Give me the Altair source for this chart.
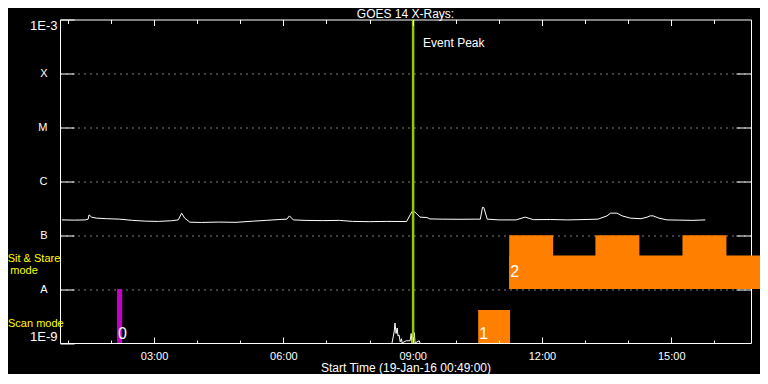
import altair as alt
import pandas as pd

# ---------------- data ----------------
# GOES 14 long channel (hours after 00:00, flux W/m^2)
goes_hours = [0.86, 1.16, 1.40, 1.47, 1.49, 1.55, 1.66, 1.90, 2.20, 2.50,
              2.80, 3.10, 3.40, 3.56, 3.64, 3.71, 3.83, 4.10, 4.50, 4.90,
              5.30, 5.60, 5.90, 6.08, 6.14, 6.23, 6.50, 6.90, 7.30, 7.60,
              8.00, 8.40, 8.86, 8.94, 9.00, 9.08, 9.17, 9.33, 9.40, 9.70,
              10.10, 10.45, 10.57, 10.62, 10.65, 10.73, 11.00, 11.40, 11.61, 11.80,
              12.20, 12.60, 13.00, 13.30, 13.51, 13.59, 13.74, 13.86, 14.05, 14.30,
              14.44, 14.51, 14.58, 14.71, 14.90, 15.20, 15.50, 15.79]
goes_flux = [1.92e-7, 1.90e-7, 1.92e-7, 1.98e-7, 2.38e-7, 2.16e-7, 2.07e-7, 2.02e-7, 1.98e-7, 1.88e-7,
             1.82e-7, 1.80e-7, 1.85e-7, 1.92e-7, 2.56e-7, 2.07e-7, 1.74e-7, 1.72e-7, 1.75e-7, 1.73e-7,
             1.82e-7, 1.88e-7, 1.95e-7, 1.98e-7, 2.28e-7, 1.92e-7, 1.88e-7, 1.86e-7, 1.88e-7, 1.80e-7,
             1.78e-7, 1.80e-7, 1.79e-7, 2.38e-7, 2.86e-7, 2.56e-7, 2.16e-7, 2.12e-7, 2.00e-7, 1.98e-7,
             1.97e-7, 1.98e-7, 1.98e-7, 3.30e-7, 3.25e-7, 1.98e-7, 1.92e-7, 1.92e-7, 2.16e-7, 1.94e-7,
             1.95e-7, 1.92e-7, 1.95e-7, 1.98e-7, 2.28e-7, 2.56e-7, 2.56e-7, 2.28e-7, 2.07e-7, 2.02e-7,
             2.16e-7, 2.28e-7, 2.28e-7, 2.07e-7, 1.92e-7, 1.90e-7, 1.88e-7, 1.92e-7]

# GOES short channel (only visible near the bottom around 08:30-09:10)
low_hours = [8.52, 8.57, 8.59, 8.615, 8.64, 8.66, 8.685, 8.71, 8.74, 8.755,
             8.85, 8.94, 8.965, 8.985, 9.04, 9.055, 9.15, 9.17]
low_flux = [1.0e-9, 1.6e-9, 2.35e-9, 1.5e-9, 1.9e-9, 1.35e-9, 1.4e-9, 1.05e-9, 1.2e-9, 1.0e-9,
            1.1e-9, 1.1e-9, 1.5e-9, 1.0e-9, 1.55e-9, 1.0e-9, 1.1e-9, 1.0e-9]

# Sit & Stare observation: a long band plus three taller blocks
ss_start = [11.24, 11.24, 13.24, 15.26]
ss_end = [17.30, 12.26, 14.26, 16.28]
ss_top = [4.2e-8, 1e-7, 1e-7, 1e-7]
ss_bottom = [1e-8, 1e-8, 1e-8, 1e-8]

# Scan mode observation blocks
scan_start = [2.14, 10.52]
scan_end = [2.26, 11.26]
scan_top = [1e-8, 4.1e-9]
scan_bottom = [1e-9, 1e-9]
scan_color = ["#c400c4", "#ff8000"]

# observation numbers
obs_labels = ["0", "1", "2"]
obs_hours = [2.14, 10.52, 11.24]
obs_flux = [1.5e-9, 1.5e-9, 2.1e-8]

# event peak
peak_hour = [9.01]
peak_lo = [1e-9]
peak_hi = [1e-3]
peak_label = ["Event Peak"]
peak_label_flux = [3.66e-4]

# mode labels
mode_labels = ["Sit & Stare", "mode", "Scan mode"]
mode_flux = [3.65e-8, 2.19e-8, 2.25e-9]

# axes
x_domain = [0.8167, 16.85]
hour_major = [3, 6, 9, 12, 15]
hour_minor = list(range(1, 17))
decades = [1e-9, 1e-8, 1e-7, 1e-6, 1e-5, 1e-4, 1e-3]
decade_labels = ["1E-9", "A", "B", "C", "M", "X", "1E-3"]

# ---------------- styling ----------------
FONT = "Liberation Sans"
WHITE = "#ffffff"
ORANGE = "#ff8000"
GREEN = "#94c800"
YELLOW = "#ffff00"

x_scale = alt.Scale(domain=x_domain, nice=False, zero=False)
y_scale = alt.Scale(type="log", domain=[decades[0], decades[-1]], nice=False)

label_expr_y = "[" + ",".join("'%s'" % s for s in decade_labels) + "][round(log(datum.value)/LN10) + 9]"
label_expr_x = "(datum.value < 10 ? '0' : '') + datum.value + ':00'"
edge_test = "datum.value > 5e-4 || datum.value < 2e-9"

ax_x_bottom_major = alt.Axis(
    orient="bottom", values=hour_major, offset=-6, tickSize=6, tickColor=WHITE, tickWidth=1,
    domain=False, grid=False, labelExpr=label_expr_x, labelColor=WHITE, labelFont=FONT,
    labelFontSize=11, labelPadding=7, labelFlush=False, labelOverlap=False,
    title="Start Time (19-Jan-16 00:49:00)", titleColor=WHITE, titleFont=FONT,
    titleFontSize=12, titleFontWeight="normal", titlePadding=1, zindex=1)
ax_x_bottom_minor = alt.Axis(
    orient="bottom", values=hour_minor, offset=-3, tickSize=3, tickColor=WHITE, tickWidth=1,
    domain=False, grid=False, labels=False, title=None, zindex=1)
ax_x_top_major = alt.Axis(
    orient="top", values=hour_major, offset=-6, tickSize=6, tickColor=WHITE, tickWidth=1,
    domain=False, grid=False, labels=False, title=None, zindex=1)
ax_x_top_minor = alt.Axis(
    orient="top", values=hour_minor, offset=-4, tickSize=4, tickColor=WHITE, tickWidth=1,
    domain=False, grid=False, labels=False, title=None, zindex=1)

ax_y_left = alt.Axis(
    orient="left", values=decades, offset=-14, tickSize=14, tickColor=WHITE, tickWidth=1,
    domain=False, grid=False, labelExpr=label_expr_y, labelColor=WHITE, labelFont=FONT,
    labelFontSize={"condition": {"test": edge_test, "value": 13}, "value": 11},
    labelPadding={"condition": {"test": edge_test, "value": 3}, "value": 13},
    labelFlush=True, labelOverlap=False, title=None, zindex=1)
ax_y_right = alt.Axis(
    orient="right", values=decades[1:-1], offset=-15, tickSize=15, tickColor=WHITE, tickWidth=1,
    domain=False, grid=False, labels=False, title=None, zindex=1)
ax_y_grid = alt.Axis(
    orient="left", values=decades[1:-1], grid=True, gridColor=WHITE, gridDash=[1, 5],
    gridWidth=1, gridOpacity=1, ticks=False, labels=False, domain=False, title=None, zindex=0)

# ---------------- tables ----------------
goes_df = pd.DataFrame({"hour": goes_hours, "flux": goes_flux})
low_df = pd.DataFrame({"hour": low_hours, "flux": low_flux})
ss_df = pd.DataFrame({"start": ss_start, "end": ss_end, "top": ss_top, "bottom": ss_bottom})
scan_df = pd.DataFrame({"start": scan_start, "end": scan_end, "top": scan_top,
                        "bottom": scan_bottom, "color": scan_color})
obs_df = pd.DataFrame({"label": obs_labels, "hour": obs_hours, "flux": obs_flux})
peak_df = pd.DataFrame({"hour": peak_hour, "lo": peak_lo, "hi": peak_hi,
                        "label": peak_label, "lflux": peak_label_flux})
mode_df = pd.DataFrame({"label": mode_labels, "flux": mode_flux})

# ---------------- layers ----------------
ss_layer = alt.Chart(ss_df).mark_rect(color=ORANGE, clip=False).encode(
    x=alt.X("start:Q", scale=x_scale, axis=ax_x_bottom_major),
    x2="end:Q",
    y=alt.Y("bottom:Q", scale=y_scale, axis=ax_y_left),
    y2="top:Q")

scan_layer = alt.Chart(scan_df).mark_rect(clip=False).encode(
    x=alt.X("start:Q", scale=x_scale, axis=ax_x_bottom_minor),
    x2="end:Q",
    y=alt.Y("bottom:Q", scale=y_scale, axis=ax_y_right),
    y2="top:Q",
    color=alt.Color("color:N", scale=None))

goes_layer = alt.Chart(goes_df).mark_line(color=WHITE, strokeWidth=1, clip=True).encode(
    x=alt.X("hour:Q", scale=x_scale, axis=ax_x_top_major),
    y=alt.Y("flux:Q", scale=y_scale, axis=ax_y_grid))

low_layer = alt.Chart(low_df).mark_line(color=WHITE, strokeWidth=1, clip=True).encode(
    x=alt.X("hour:Q", scale=x_scale, axis=ax_x_top_minor),
    y=alt.Y("flux:Q", scale=y_scale, axis=None))

peak_rule = alt.Chart(peak_df).mark_rule(color=GREEN, strokeWidth=2.5).encode(
    x=alt.X("hour:Q", scale=x_scale, axis=None),
    y=alt.Y("lo:Q", scale=y_scale, axis=None),
    y2="hi:Q")

peak_text = alt.Chart(peak_df).mark_text(
    align="left", baseline="middle", dx=10, color=WHITE, font=FONT, fontSize=12).encode(
    x=alt.X("hour:Q", scale=x_scale, axis=None),
    y=alt.Y("lflux:Q", scale=y_scale, axis=None),
    text="label:N")

obs_text = alt.Chart(obs_df).mark_text(
    align="left", baseline="middle", dx=1, color=WHITE, font=FONT, fontSize=16).encode(
    x=alt.X("hour:Q", scale=x_scale, axis=None),
    y=alt.Y("flux:Q", scale=y_scale, axis=None),
    text="label:N")

mode_base = alt.Chart(mode_df)
sit_text = mode_base.transform_filter(alt.datum.label == mode_labels[0]).mark_text(
    align="center", baseline="middle", color=YELLOW, font=FONT, fontSize=11).encode(
    x=alt.value(-26), y=alt.Y("flux:Q", scale=y_scale, axis=None), text="label:N")
mode_text = mode_base.transform_filter(alt.datum.label == mode_labels[1]).mark_text(
    align="center", baseline="middle", color=YELLOW, font=FONT, fontSize=11).encode(
    x=alt.value(-36), y=alt.Y("flux:Q", scale=y_scale, axis=None), text="label:N")
scan_text = mode_base.transform_filter(alt.datum.label == mode_labels[2]).mark_text(
    align="left", baseline="middle", color=YELLOW, font=FONT, fontSize=11).encode(
    x=alt.value(-52), y=alt.Y("flux:Q", scale=y_scale, axis=None), text="label:N")

chart = alt.layer(
    ss_layer, scan_layer, goes_layer, low_layer, peak_rule, peak_text, obs_text,
    sit_text, mode_text, scan_text
).resolve_scale(x="shared", y="shared").resolve_axis(
    x="independent", y="independent"
).properties(
    width=691,
    height=323.5,
    autosize=alt.AutoSizeParams(type="none"),
    padding={"left": 52, "top": 11.5, "right": 9, "bottom": 31},
    background="black",
    title=alt.TitleParams(
        "GOES 14 X-Rays:", color=WHITE, font=FONT, fontSize=12, fontWeight="normal",
        anchor="middle", frame="group", baseline="alphabetic", offset=3, dy=15),
).configure_view(stroke=WHITE, strokeWidth=1, fill="black")

chart.save("out.html", embed_options={"renderer": "svg", "actions": False})
